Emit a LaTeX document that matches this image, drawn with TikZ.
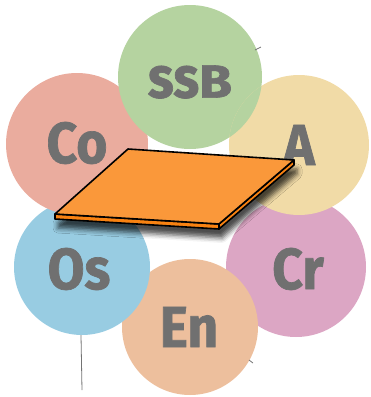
\documentclass[tikz,border=0pt]{standalone}
\usepackage{fontspec}
\newfontfamily\lblfont{Fira Sans}[FakeStretch=0.92, FakeBold=1.2]
\usepackage{tikz}
\usetikzlibrary{shadows.blur}
\definecolor{ssbgreen}{RGB}{181,211,160}
\definecolor{copink}{RGB}{234,172,158}
\definecolor{ayellow}{RGB}{241,219,167}
\definecolor{osblue}{RGB}{152,204,226}
\definecolor{crmauve}{RGB}{220,166,196}
\definecolor{enpeach}{RGB}{237,191,157}
\definecolor{labelgray}{RGB}{112,112,112}
\definecolor{platetop}{RGB}{250,152,58}
\definecolor{plateside}{RGB}{248,130,18}

\begin{document}
\begin{tikzpicture}[
  x=1pt, y=-1pt,
  disc/.style={circle, minimum size=140pt, inner sep=0pt},
  lbl/.style={inner sep=0pt, text=labelgray, font=\lblfont\bfseries\fontsize{58}{58}\selectfont},
  plate/.style={draw=black, line width=1.6pt, line join=round},
  scratch/.style={draw=black!55, line width=0.8pt}
]
\useasboundingbox (0,0) rectangle (371,397);

% Ring of circles (drawn in a cycle)
\node[disc, fill=crmauve] (Cr) at (296,267) {};
\node[disc, fill=enpeach, minimum size=136pt] (En) at (190,327) {};
\node[disc, fill=osblue, minimum size=136pt] (Os) at (82,267) {};
\node[disc, fill=copink, minimum size=142pt] (Co) at (77,144) {};
\node[disc, fill=ssbgreen, minimum size=144pt] (ssB) at (190,77) {};
\node[disc, fill=ayellow] (A) at (299,145) {};

% ssB sits over A again
\begin{scope}
  \clip (A.center) circle (70);
  \fill[ssbgreen] (ssB.center) circle (72);
\end{scope}

% Labels
\node[lbl] (ssB-lbl) at (190,82) {ss\scalebox{1}[0.8]{B}};
\node[lbl] (Co-lbl) at (77,143) {Co};
\node[lbl] (A-lbl) at (299,145) {A};
\node[lbl] (Os-lbl) at (79,269) {Os};
\node[lbl] (Cr-lbl) at (298,269) {Cr};
\node[lbl] (En-lbl) at (189,327) {En};

% Stray marks
\draw[scratch] (Os.south) ++(-1,0) -- (82,390);
\draw[scratch] (255,50) -- (261,47);
\draw[scratch] (249,360) -- (253,363);

% Plate
\coordinate (p1) at (128,149);
\coordinate (p2) at (294,160);
\coordinate (p3) at (219,224);
\coordinate (p4) at (55,214);
\fill[white, blur shadow={shadow xshift=3pt, shadow yshift=-9pt, shadow blur radius=5pt, shadow opacity=70}]
  (p1) -- (p2) -- ([yshift=-5pt]p2) -- ([yshift=-5pt]p3) -- ([yshift=-5pt]p4) -- (p4) -- cycle;
\filldraw[plate, fill=plateside] (p4) -- (p3) -- ([yshift=-5pt]p3) -- ([yshift=-5pt]p4) -- cycle;
\filldraw[plate, fill=plateside] (p3) -- (p2) -- ([yshift=-5pt]p2) -- ([yshift=-5pt]p3) -- cycle;
\filldraw[plate, fill=platetop] (p1) -- (p2) -- (p3) -- (p4) -- cycle;

\end{tikzpicture}
\end{document}
